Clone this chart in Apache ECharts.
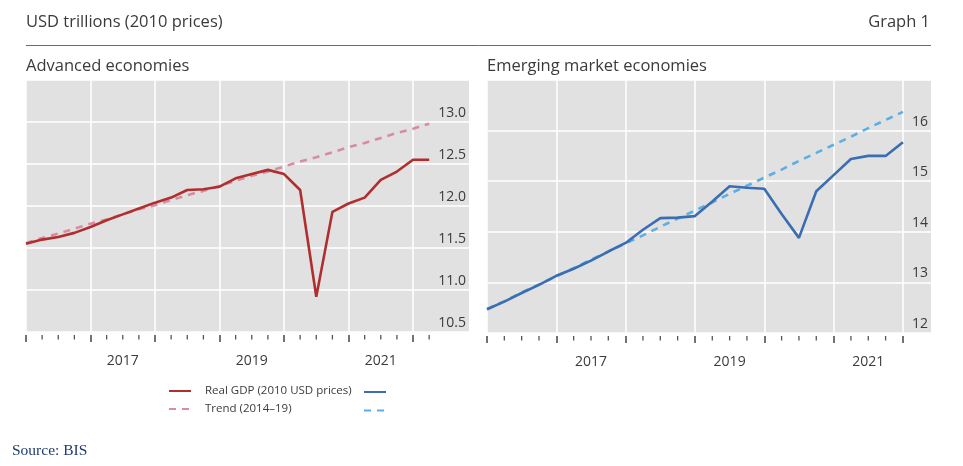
<!DOCTYPE html>
<html><head><meta charset="utf-8">
<script src="https://cdn.jsdelivr.net/npm/echarts@6/dist/echarts.min.js"></script>
<style>html,body{margin:0;padding:0;background:#fff}#c{width:963px;height:466px}</style>
</head><body><div id="c"></div>
<script>
// ---- data ----
const quarters = ['2016Q1','2016Q2','2016Q3','2016Q4','2017Q1','2017Q2','2017Q3','2017Q4',
  '2018Q1','2018Q2','2018Q3','2018Q4','2019Q1','2019Q2','2019Q3','2019Q4',
  '2020Q1','2020Q2','2020Q3','2020Q4','2021Q1','2021Q2','2021Q3','2021Q4','2022Q1','2022Q2'];
const yearLabels = ['2017','2019','2021'];
const advTickLabels = ['10.5','11.0','11.5','12.0','12.5','13.0'];
const emeTickLabels = ['12','13','14','15','16'];
const advReal = [11.55,11.60,11.63,11.68,11.75,11.83,11.90,11.97,12.04,12.10,12.19,12.20,12.23,
  12.33,12.38,12.43,12.38,12.19,10.92,11.93,12.03,12.10,12.31,12.41,12.55,12.55];
const advTrend = [11.56,11.62,11.67,11.73,11.79,11.84,11.90,11.96,12.01,12.07,12.13,12.18,12.24,
  12.30,12.36,12.41,12.47,12.53,12.58,12.64,12.70,12.75,12.81,12.87,12.92,12.98];
const emeReal = [12.47,12.62,12.79,12.95,13.13,13.27,13.43,13.61,13.78,14.04,14.27,14.28,14.31,
  14.60,14.90,14.87,14.85,14.35,13.88,14.80,15.12,15.44,15.50,15.50,15.77];
const emeTrend = [12.47,12.63,12.80,12.96,13.12,13.28,13.45,13.61,13.77,13.93,14.10,14.26,14.42,
  14.58,14.75,14.91,15.07,15.23,15.40,15.56,15.72,15.88,16.05,16.21,16.37];
const seriesNames = ['Real GDP (2010 USD prices)','Trend (2014–19)','EME real','EME trend'];

// ---- style ----
const FONT = "'Open Sans', sans-serif";
const TXT = '#3b3b3b';
const RED = '#b02e2e', PINK = '#d88ca3', BLUE = '#3b6db3', LBLUE = '#5caee6';

const quarterIdx = n => quarters.slice(0, n).map((q, i) => i);
function xAxis(gridIndex, n, max) {
  const majors = quarterIdx(n).filter(i => quarters[i].endsWith('Q1'));
  const labelPos = yearLabels.map(y => quarters.indexOf(y + 'Q3'));
  return { type: 'value', gridIndex, position: 'bottom', min: 0, max, offset: 3,
    axisLine: { show: false },
    axisTick: { show: true, customValues: majors, length: 7, lineStyle: { color: '#444', width: 1.5 } },
    axisLabel: { customValues: labelPos, formatter: v => quarters[Math.round(v)].slice(0, 4),
      margin: 19, color: TXT, fontSize: 14, fontFamily: FONT },
    splitLine: { show: true, lineStyle: { color: '#fff', width: 1.5 } } };
}
function yAxis(gridIndex, labels, step, fmt) {
  const min = Number(labels[0]);
  return { type: 'value', gridIndex, position: 'right', min, max: Number(labels[labels.length - 1]) + step,
    interval: step,
    axisLine: { show: false }, axisTick: { show: false },
    axisLabel: { inside: true, margin: 3, showMaxLabel: false, formatter: fmt,
      verticalAlign: 'bottom', padding: [0, 0, 2, 0],
      color: TXT, fontSize: 14, fontFamily: FONT },
    splitLine: { show: true, lineStyle: { color: '#fff', width: 1.5 } } };
}
// quarterly minor tick marks below the plot, placed through the axis scale
function minorTicks(axisIndex, n, yMin) {
  return { type: 'custom', xAxisIndex: axisIndex, yAxisIndex: axisIndex, silent: true, clip: false, z: 5,
    data: quarterIdx(n).filter(i => !quarters[i].endsWith('Q1')).map(i => [i, yMin]),
    renderItem: (params, api) => {
      const p = api.coord([api.value(0), yMin]);
      return { type: 'line', shape: { x1: p[0], y1: p[1] + 3, x2: p[0], y2: p[1] + 7.5 },
        style: { stroke: '#555', lineWidth: 1.3 } };
    } };
}
const toPts = arr => arr.map((v, i) => [i, v]);
function line(name, data, xi, yi, color, dashed, z) {
  return { name, type: 'line', xAxisIndex: xi, yAxisIndex: yi, data: toPts(data),
    symbol: 'none', z, silent: true,
    lineStyle: { color, width: 2.6, type: dashed ? [7, 6] : 'solid' },
    itemStyle: { color } };
}
const legendBase = { top: 385, padding: 0, orient: 'vertical', itemWidth: 22, itemHeight: 14, itemGap: 6,
  selectedMode: false, itemStyle: { opacity: 0, color: 'transparent', borderWidth: 0 },
  textStyle: { fontSize: 11.5, color: TXT, fontFamily: FONT, padding: [0, 0, 0, 9] } };

const chart = echarts.init(document.getElementById('c'));
chart.setOption({
  animation: false,
  backgroundColor: '#fff',
  textStyle: { fontFamily: FONT },
  grid: [
    { left: 26, top: 80, width: 443, height: 252, show: true, backgroundColor: '#e1e1e1', borderWidth: 0 },
    { left: 487, top: 80, width: 444, height: 253, show: true, backgroundColor: '#e1e1e1', borderWidth: 0 }
  ],
  xAxis: [xAxis(0, 26, 27.47), xAxis(1, 25, 25.62)],
  yAxis: [
    yAxis(0, advTickLabels, 0.5, v => v.toFixed(1)),
    yAxis(1, emeTickLabels, 1, v => String(v))
  ],
  legend: [
    Object.assign({}, legendBase, { left: 168, data: [seriesNames[0], seriesNames[1]] }),
    Object.assign({}, legendBase, { left: 363, data: [seriesNames[2], seriesNames[3]], formatter: () => '' })
  ],
  graphic: [
    { type: 'text', x: 26, y: 22, style: { text: 'USD trillions (2010 prices)', fontSize: 16.5, fill: TXT, fontFamily: FONT, verticalAlign: 'middle' } },
    { type: 'text', x: 930, y: 22, style: { text: 'Graph 1', fontSize: 16.5, fill: TXT, fontFamily: FONT, align: 'right', verticalAlign: 'middle' } },
    { type: 'line', shape: { x1: 26, y1: 45.5, x2: 931, y2: 45.5 }, style: { stroke: '#6a6a6a', lineWidth: 1 } },
    { type: 'text', x: 26, y: 66, style: { text: 'Advanced economies', fontSize: 16.5, fill: TXT, fontFamily: FONT, verticalAlign: 'middle' } },
    { type: 'text', x: 487, y: 66, style: { text: 'Emerging market economies', fontSize: 16.5, fill: TXT, fontFamily: FONT, verticalAlign: 'middle' } },
    { type: 'text', x: 12, y: 451, style: { text: 'Source: BIS', fontSize: 15.5, fill: '#1f3b6f', fontFamily: "'Liberation Serif', serif", verticalAlign: 'middle' } }
  ],
  series: [
    line(seriesNames[1], advTrend, 0, 0, PINK, true, 2),
    line(seriesNames[0], advReal, 0, 0, RED, false, 3),
    line(seriesNames[3], emeTrend, 1, 1, LBLUE, true, 2),
    line(seriesNames[2], emeReal, 1, 1, BLUE, false, 3),
    minorTicks(0, 26, Number(advTickLabels[0])),
    minorTicks(1, 25, Number(emeTickLabels[0]))
  ]
});
</script></body></html>
